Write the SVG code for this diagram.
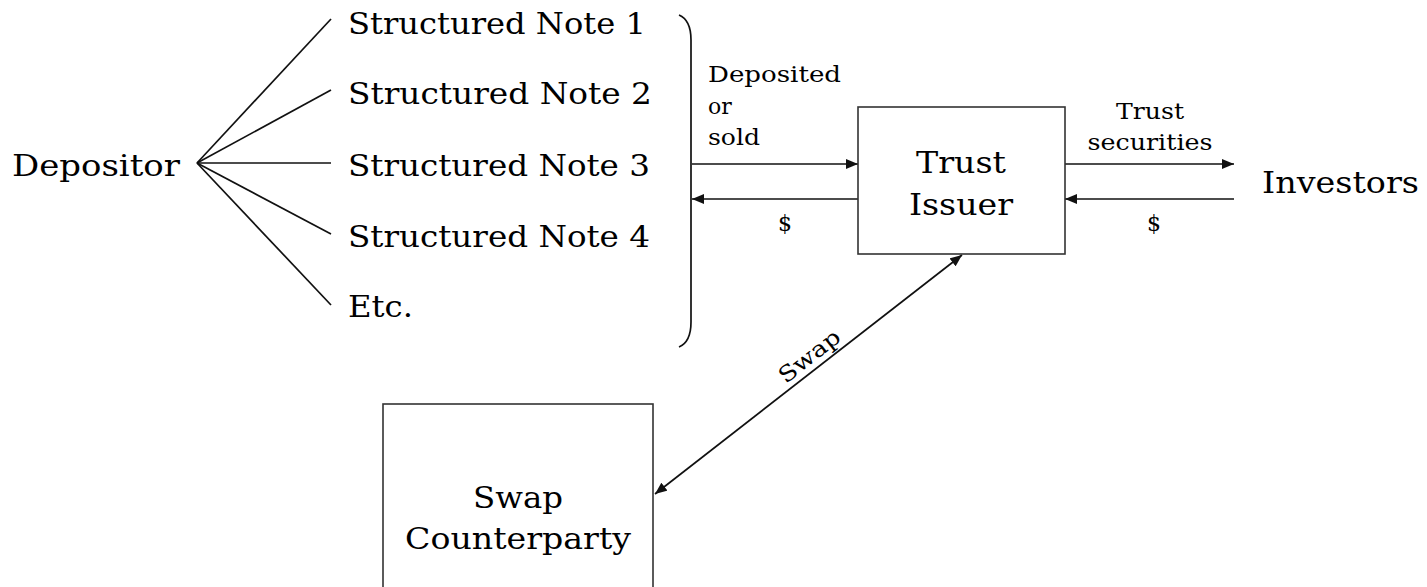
<svg xmlns="http://www.w3.org/2000/svg" width="1427" height="587" viewBox="0 0 1427 587">
<style>
text{font-family:"DejaVu Serif","Liberation Serif",serif;fill:#000}
.big{font-size:29px}
.mid{font-size:30px}
.sm{font-size:22px}
.ln{stroke:#111;stroke-width:1.7;fill:none}
.box{fill:#fff;stroke:#333;stroke-width:1.6}
</style>
<defs>
<marker id="ah" viewBox="0 0 12 10" refX="12" refY="5" markerWidth="12" markerHeight="10" markerUnits="userSpaceOnUse" orient="auto-start-reverse">
<path d="M0,0 L12,5 L0,10 Z" fill="#111"/>
</marker>
</defs>
<g id="connectors">
<line class="ln" x1="197" y1="163" x2="331" y2="19"/>
<line class="ln" x1="197" y1="163" x2="331" y2="90"/>
<line class="ln" x1="197" y1="163" x2="331" y2="163"/>
<line class="ln" x1="197" y1="163" x2="331" y2="234"/>
<line class="ln" x1="197" y1="163" x2="331" y2="305"/>
<path class="ln" d="M679,15 Q691,20 691,40 L691,322 Q691,342 679,347"/>
<line class="ln" x1="692" y1="164" x2="858" y2="164" marker-end="url(#ah)"/>
<line class="ln" x1="858" y1="199" x2="692" y2="199" marker-end="url(#ah)"/>
<line class="ln" x1="1065" y1="164" x2="1234" y2="164" marker-end="url(#ah)"/>
<line class="ln" x1="1234" y1="199" x2="1065" y2="199" marker-end="url(#ah)"/>
<line class="ln" x1="655" y1="494" x2="962" y2="255" marker-start="url(#ah)" marker-end="url(#ah)"/>
<text class="sm" x="708" y="82" textLength="133" lengthAdjust="spacingAndGlyphs">Deposited</text>
<text class="sm" x="708" y="114">or</text>
<text class="sm" x="708" y="145" textLength="52" lengthAdjust="spacingAndGlyphs">sold</text>
<text class="sm" x="785" y="231" text-anchor="middle">$</text>
<text class="sm" x="1150" y="119" text-anchor="middle" textLength="68" lengthAdjust="spacingAndGlyphs">Trust</text>
<text class="sm" x="1150" y="150" text-anchor="middle" textLength="125" lengthAdjust="spacingAndGlyphs">securities</text>
<text class="sm" x="1154" y="231" text-anchor="middle">$</text>
<text class="sm" x="0" y="0" text-anchor="middle" transform="translate(814,362) rotate(-38)" textLength="72" lengthAdjust="spacingAndGlyphs">Swap</text>
</g>
<g id="depositor">
<text class="big" x="12" y="176" textLength="168" lengthAdjust="spacingAndGlyphs">Depositor</text>
</g>
<g id="note1"><text class="big" x="348" y="34" textLength="298" lengthAdjust="spacingAndGlyphs">Structured Note 1</text></g>
<g id="note2"><text class="big" x="348" y="104" textLength="304" lengthAdjust="spacingAndGlyphs">Structured Note 2</text></g>
<g id="note3"><text class="big" x="348" y="176" textLength="302" lengthAdjust="spacingAndGlyphs">Structured Note 3</text></g>
<g id="note4"><text class="big" x="348" y="247" textLength="302" lengthAdjust="spacingAndGlyphs">Structured Note 4</text></g>
<g id="etc"><text class="big" x="348" y="317" textLength="65" lengthAdjust="spacingAndGlyphs">Etc.</text></g>
<g id="trust-issuer">
<rect class="box" x="858" y="107" width="207" height="147"/>
<text class="mid" x="961" y="173" text-anchor="middle" textLength="90" lengthAdjust="spacingAndGlyphs">Trust</text>
<text class="mid" x="961" y="215" text-anchor="middle" textLength="104" lengthAdjust="spacingAndGlyphs">Issuer</text>
</g>
<g id="investors">
<text class="big" x="1262" y="193" textLength="157" lengthAdjust="spacingAndGlyphs">Investors</text>
</g>
<g id="swap-counterparty">
<rect class="box" x="383" y="404" width="270" height="190"/>
<text class="big" x="518" y="508" text-anchor="middle" textLength="90" lengthAdjust="spacingAndGlyphs">Swap</text>
<text class="big" x="518" y="549" text-anchor="middle" textLength="226" lengthAdjust="spacingAndGlyphs">Counterparty</text>
</g>
</svg>
